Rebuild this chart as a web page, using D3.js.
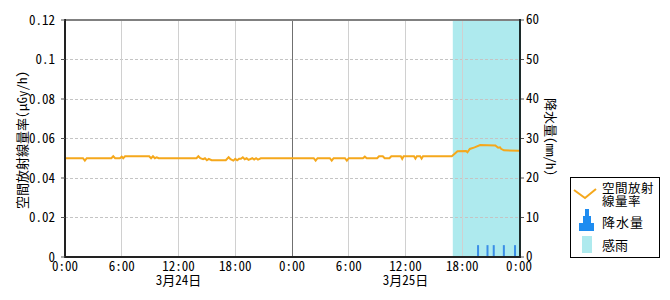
<!DOCTYPE html>
<html><head><meta charset="utf-8">
<script src="https://cdn.jsdelivr.net/npm/d3@7"></script>
<style>
body{margin:0;background:#fff;}
svg text{font-family:"Noto Sans CJK JP",sans-serif;font-feature-settings:"hwid" 1;fill:#000;}
</style></head><body>
<svg id="c" width="670" height="300"></svg>
<script>
// ---- data ----
const xTickHours = [0,6,12,18,24,30,36,42,48];
const xTickLabels = ["0:00","6:00","12:00","18:00","0:00","6:00","12:00","18:00","0:00"];
const dateHours = [12,36];
const dateLabels = ["3月24日","3月25日"];
const yLeftTicks = [0,0.02,0.04,0.06,0.08,0.1,0.12];
const yLeftLabels = ["0","0.02","0.04","0.06","0.08","0.1","0.12"];
const yRightTicks = [0,10,20,30,40,50,60];
// air dose rate (μGy/h), hours from 3/24 0:00
const doseHours = [0,1.9,2.1,2.3,4.9,5.1,5.3,5.8,6.0,6.15,6.35,8.9,9.1,9.3,9.5,9.7,9.9,
  13.9,14.1,14.3,14.6,14.8,15.0,15.2,15.5,17.0,17.3,17.5,17.8,18.0,18.2,18.4,18.6,18.8,19.0,19.2,19.4,19.8,20.0,20.2,20.4,20.7,
  26.3,26.5,26.7,28.0,28.2,28.4,29.6,29.8,30.0,31.5,31.7,31.9,33.0,33.2,33.6,33.8,34.3,34.5,
  35.5,35.65,35.8,36.9,37.05,37.2,37.55,37.7,37.85,40.9,41.5,42.4,42.55,42.8,43.3,43.9,45.5,45.8,46.0,46.1,46.4,48];
const doseValues = [0.050,0.050,0.0488,0.050,0.050,0.051,0.050,0.050,0.0508,0.050,0.051,0.051,0.0500,0.051,0.0500,0.0505,0.050,
  0.050,0.051,0.050,0.0495,0.050,0.049,0.0497,0.049,0.049,0.0505,0.0495,0.0488,0.0497,0.049,0.0497,0.0497,0.0505,0.0495,0.050,0.0492,0.050,0.0493,0.050,0.0493,0.050,
  0.050,0.0488,0.050,0.050,0.0488,0.050,0.050,0.0488,0.050,0.050,0.0508,0.050,0.050,0.051,0.051,0.050,0.050,0.051,
  0.051,0.0497,0.051,0.051,0.0498,0.051,0.051,0.0498,0.051,0.051,0.0535,0.0537,0.0530,0.0547,0.0555,0.0567,0.0565,0.0553,0.0555,0.0548,0.054,0.0538];
// precipitation (mm/h)
const rainHours = [43.67,44.67,45.33,46.4,47.58];
const rainValues = [3,3,3,3,3];
// rain sensing period
const senseStart = [41];
const senseEnd = [48];

// ---- layout ----
const L=65,R=519,T=20,B=257;
const svg=d3.select("#c");
const x=d3.scaleLinear().domain([0,48]).range([L,R]);
const yL=d3.scaleLinear().domain([0,0.12]).range([B,T]);
const yR=d3.scaleLinear().domain([0,60]).range([B,T]);

// rain sensing shading
svg.selectAll("rect.sense").data(senseStart).join("rect").attr("class","sense")
  .attr("x",(d,i)=>x(d)).attr("y",T).attr("width",(d,i)=>x(senseEnd[i])-x(d)).attr("height",B-T)
  .attr("fill","#aeeaee");

// horizontal grid (dashed)
svg.append("g").selectAll("line").data(yLeftTicks.slice(1,-1)).join("line")
  .attr("x1",L).attr("x2",R).attr("y1",d=>yL(d)).attr("y2",d=>yL(d))
  .attr("stroke","#c4c4c4").attr("stroke-dasharray","3,2").attr("shape-rendering","crispEdges");
// vertical grid
svg.append("g").selectAll("line").data(xTickHours.slice(1,-1)).join("line")
  .attr("x1",d=>x(d)).attr("x2",d=>x(d)).attr("y1",T).attr("y2",B)
  .attr("stroke",d=>d===24?"#707070":"#d0d0d0").attr("shape-rendering","crispEdges");

// rain bars
svg.append("g").selectAll("rect").data(rainHours).join("rect")
  .attr("x",d=>x(d)-1).attr("width",2)
  .attr("y",(d,i)=>yR(rainValues[i])).attr("height",(d,i)=>B-yR(rainValues[i]))
  .attr("fill","#3a8ee6");

// dose line
const pts=doseHours.map((h,i)=>[h,doseValues[i]]);
svg.append("path").datum(pts)
  .attr("d",d3.line().x(d=>x(d[0])).y(d=>yL(d[1])))
  .attr("fill","none").attr("stroke","#f5a81c").attr("stroke-width",2);

// frame
svg.append("line").attr("x1",L).attr("x2",R+1).attr("y1",T).attr("y2",T).attr("stroke","#808080").attr("stroke-width",2);
svg.append("line").attr("x1",L).attr("x2",L).attr("y1",T-1).attr("y2",B+1).attr("stroke","#222").attr("stroke-width",2);
svg.append("line").attr("x1",R+1).attr("x2",R+1).attr("y1",T-1).attr("y2",B+1).attr("stroke","#1c2a2a").attr("stroke-width",2);
svg.append("line").attr("x1",L-1).attr("x2",R+2).attr("y1",B).attr("y2",B).attr("stroke","#222").attr("stroke-width",2);

// left axis ticks + labels
const gl=svg.append("g");
gl.selectAll("line").data(yLeftTicks).join("line")
  .attr("x1",L-4).attr("x2",L).attr("y1",d=>yL(d)).attr("y2",d=>yL(d)).attr("stroke","#555");
gl.selectAll("text").data(yLeftTicks).join("text")
  .attr("x",L-10).attr("y",d=>yL(d)+4.5).attr("text-anchor","end").attr("font-size",13)
  .text((d,i)=>yLeftLabels[i]);
// right axis
const gr=svg.append("g");
gr.selectAll("line").data(yRightTicks).join("line")
  .attr("x1",R+2).attr("x2",R+5).attr("y1",d=>yR(d)).attr("y2",d=>yR(d)).attr("stroke","#555");
gr.selectAll("text").data(yRightTicks).join("text")
  .attr("x",R+7).attr("y",d=>yR(d)+4).attr("text-anchor","start").attr("font-size",13)
  .text(d=>d);
// x labels
svg.append("g").selectAll("text").data(xTickHours).join("text")
  .attr("x",d=>x(d)).attr("y",271).attr("text-anchor","middle").attr("font-size",13)
  .text((d,i)=>xTickLabels[i]);
svg.append("g").selectAll("text").data(dateHours).join("text")
  .attr("x",d=>x(d)).attr("y",284.5).attr("text-anchor","middle").attr("font-size",13)
  .text((d,i)=>dateLabels[i]);

// axis titles
svg.append("text").attr("transform","translate(21,140) rotate(-90)")
  .attr("text-anchor","middle").attr("dominant-baseline","central").attr("font-size",13)
  .text("空間放射線量率(μGy/h)");
svg.append("text").attr("transform","translate(551,137) rotate(90)")
  .attr("text-anchor","middle").attr("dominant-baseline","central").attr("font-size",13)
  .text("降水量(mm/h)");

// legend
const lg=svg.append("g");
lg.append("rect").attr("x",570.5).attr("y",177.5).attr("width",89).attr("height",80)
  .attr("fill","#fff").attr("stroke","#000");
lg.append("polyline").attr("points","574,190 585,198 596,189")
  .attr("fill","none").attr("stroke","#f5a81c").attr("stroke-width",2);
lg.append("text").attr("x",602).attr("y",193).attr("font-size",12.5).attr("letter-spacing",0.5).text("空間放射");
lg.append("text").attr("x",602).attr("y",205.5).attr("font-size",12.5).attr("letter-spacing",0.5).text("線量率");
lg.append("polygon").attr("points","579,231 579,223 583,223 583,216 585,216 585,209 589,209 589,216 591,216 591,223 594,223 594,231")
  .attr("fill","#1e8cf0");
lg.append("text").attr("x",602).attr("y",227).attr("font-size",13).attr("letter-spacing",1).text("降水量");
lg.append("rect").attr("x",582).attr("y",236).attr("width",10).attr("height",17).attr("fill","#aeeaee");
lg.append("text").attr("x",602).attr("y",250).attr("font-size",13).text("感雨");
</script></body></html>
